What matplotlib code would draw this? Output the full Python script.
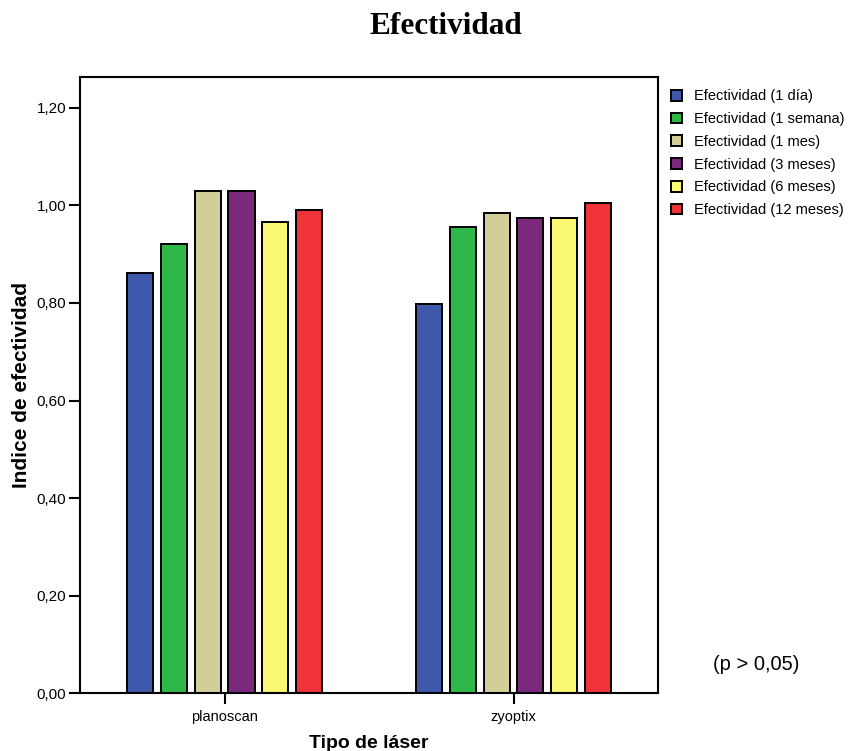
import numpy as np
import matplotlib.pyplot as plt

plt.rcParams['font.family'] = ['Liberation Sans', 'DejaVu Sans']

laser_types = ["planoscan", "zyoptix"]
series_names = ["Efectividad (1 día)", "Efectividad (1 semana)", "Efectividad (1 mes)",
                "Efectividad (3 meses)", "Efectividad (6 meses)", "Efectividad (12 meses)"]
planoscan_vals = [0.862, 0.921, 1.029, 1.029, 0.966, 0.990]
zyoptix_vals = [0.798, 0.955, 0.984, 0.974, 0.974, 1.005]
yticks = [0.0, 0.2, 0.4, 0.6, 0.8, 1.0, 1.2]
ytick_labels = ["0,00", "0,20", "0,40", "0,60", "0,80", "1,00", "1,20"]

bar_colors = ['#3E58AC', '#2EB848', '#D3CE97', '#7C287D', '#FBF873', '#EF3338']

fig = plt.figure(figsize=(8.52, 7.51), dpi=100)
ax = fig.add_axes([0.0939, 0.0768, 0.6784, 0.8207])

x = np.arange(len(laser_types))
step = 0.1176
width = 0.09
values = np.array([planoscan_vals, zyoptix_vals])
for i, (name, color) in enumerate(zip(series_names, bar_colors)):
    offset = (i - 2.5) * step
    ax.bar(x + offset, values[:, i], width=width, color=color,
           edgecolor='black', linewidth=1.4, label=name)

ax.set_xlim(-0.5, 1.5)
ax.set_ylim(0, 1.263)
ax.set_xticks(x)
ax.set_xticklabels(laser_types, fontsize=10.5)
ax.set_yticks(yticks)
ax.set_yticklabels(ytick_labels, fontsize=11)
ax.tick_params(axis='y', length=8, width=1.5, pad=2)
ax.tick_params(axis='x', length=8, width=1.5, pad=4)
for sp in ax.spines.values():
    sp.set_linewidth(1.5)

ax.set_ylabel("Indice de efectividad", fontsize=15, fontweight='bold', labelpad=4)
ax.set_xlabel("Tipo de láser", fontsize=14, fontweight='bold', labelpad=8)

fig.text(446 / 852, 1 - 26 / 751, "Efectividad", fontsize=22.5, fontweight='bold',
         family='Liberation Serif', ha='center', va='center')
fig.text(756 / 852, 1 - 665 / 751, "(p > 0,05)", fontsize=14.5, ha='center', va='center')

fig.legend(loc='upper left', bbox_to_anchor=(0.788, 0.881), frameon=False,
           fontsize=10.5, handlelength=0.75, handleheight=0.75, handletextpad=0.8,
           labelspacing=0.6, borderpad=0, borderaxespad=0)

fig.savefig("out.png", dpi=100)
